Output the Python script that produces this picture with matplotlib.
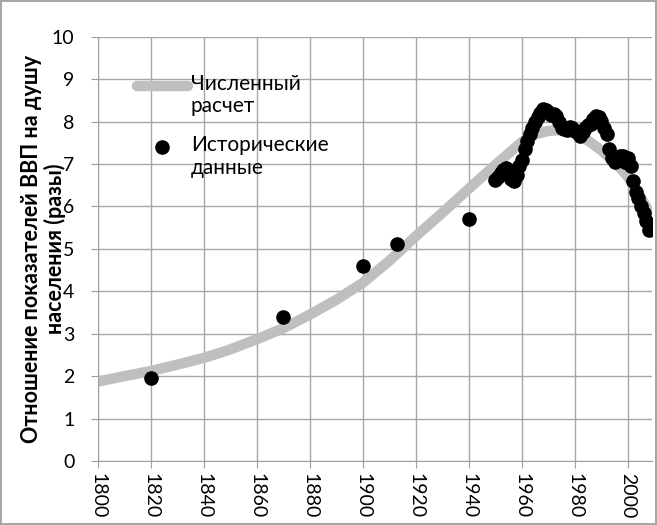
import matplotlib.pyplot as plt
from matplotlib.legend_handler import HandlerLine2D
import numpy as np

plt.rcParams['font.family'] = ['Lato', 'DejaVu Sans']

# numerical model curve
model_years = [1800, 1810, 1820, 1830, 1840, 1850, 1860, 1870, 1880, 1890, 1900,
               1910, 1920, 1930, 1940, 1950, 1955, 1960, 1965, 1970, 1975, 1980,
               1985, 1990, 1995, 2000, 2005, 2009]
model_vals = [1.87, 2.0, 2.12, 2.27, 2.43, 2.63, 2.87, 3.13, 3.45, 3.8, 4.2,
              4.72, 5.3, 5.85, 6.42, 6.98, 7.25, 7.52, 7.7, 7.78, 7.8, 7.72,
              7.55, 7.32, 7.05, 6.7, 6.2, 5.75]

# historical data
hist_years = [1820, 1870, 1900, 1913, 1940] + list(range(1950, 2009))
hist_vals = [1.95, 3.4, 4.6, 5.12, 5.71,
             6.62, 6.70, 6.78, 6.85, 6.90, 6.85, 6.65, 6.60, 6.75, 6.95,
             7.10, 7.35, 7.55, 7.70, 7.85, 7.98, 8.10, 8.20, 8.30, 8.28,
             8.22, 8.15, 8.18, 8.12, 7.98, 7.85, 7.82, 7.80, 7.88, 7.85,
             7.78, 7.72, 7.65, 7.75, 7.85, 7.92, 7.95, 8.05, 8.12, 8.10,
             8.02, 7.85, 7.70, 7.35, 7.15, 7.05, 7.10, 7.20, 7.18, 7.05,
             7.15, 6.95, 6.60, 6.35, 6.20, 6.02, 5.85, 5.65, 5.45]

x_ticks = list(range(1800, 2001, 20))
y_ticks = list(range(0, 11))


class FirstLineHandler(HandlerLine2D):
    # put the legend key next to the first line of a two-line label
    def create_artists(self, legend, orig_handle, xdescent, ydescent, width, height,
                       fontsize, trans):
        return super().create_artists(legend, orig_handle, xdescent, ydescent - 15,
                                      width, height, fontsize, trans)


fig = plt.figure(figsize=(6.57, 5.25), dpi=100)
fig.patch.set_edgecolor('#a6a6a6')
fig.patch.set_linewidth(1.5)
ax = fig.add_axes([0.149, 0.122, 0.843, 0.808])

model_line, = ax.plot(model_years, model_vals, color='#bfbfbf', lw=7.5,
                      solid_capstyle='butt', label='Численный\nрасчет', zorder=2)
hist_pts, = ax.plot(hist_years, hist_vals, 'o', color='black', ms=9.5,
                    label='Исторические\nданные', zorder=3)

ax.set_xlim(1800, 2009)
ax.set_ylim(0, 10)
ax.set_xticks(x_ticks)
ax.set_yticks(y_ticks)
ax.tick_params(axis='x', labelrotation=-90, labelsize=14, color='#a0a0a0', length=5, pad=4)
ax.tick_params(axis='y', labelsize=14, color='#a0a0a0', length=5, pad=12)
ax.grid(True, color='#a6a6a6', lw=1)
ax.set_axisbelow(True)
for s in ['top', 'right']:
    ax.spines[s].set_visible(False)
for s in ['left', 'bottom']:
    ax.spines[s].set_color('#a0a0a0')

ax.set_ylabel('Отношение показателей ВВП на душу\nнаселения (разы)', fontsize=15.5,
              fontweight='bold', linespacing=1.1)
ax.yaxis.set_label_coords(-0.058, 0.5)

leg = ax.legend(handles=[model_line, hist_pts], loc='upper left',
                bbox_to_anchor=(0.07, 0.912), frameon=False, fontsize=15,
                handlelength=2.45, handletextpad=0.15, labelspacing=0.9,
                borderpad=0, borderaxespad=0,
                handler_map={model_line: FirstLineHandler(), hist_pts: FirstLineHandler()})
for t in leg.get_texts():
    t.set_linespacing(1.15)
for h in leg.legend_handles:
    if h.get_linestyle() != 'None':
        h.set_solid_capstyle('round')

fig.savefig('out.png', dpi=100)
